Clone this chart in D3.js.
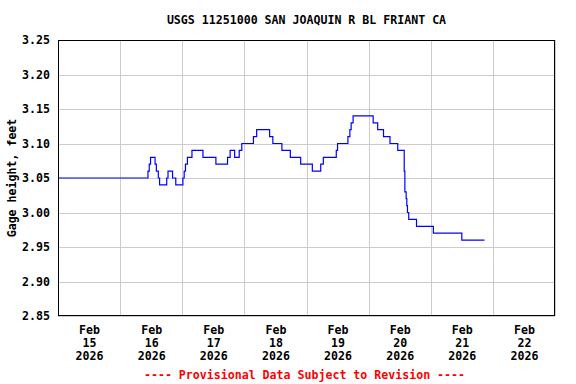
<!DOCTYPE html>
<html>
<head>
<meta charset="utf-8">
<script src="https://cdn.jsdelivr.net/npm/d3@7/dist/d3.min.js"></script>
<style>
  body { margin: 0; background: #fff; }
  text { font-family: "DejaVu Sans Mono", "Liberation Mono", monospace; font-weight: bold; font-size: 11.6px; }
</style>
</head>
<body>
<svg id="chart"></svg>
<script>
// Gage height readings: each value holds until the next time (step changes)
const stepTimes = [
  "2026-02-15 00:00", "2026-02-16 10:45", "2026-02-16 11:15", "2026-02-16 11:45", "2026-02-16 13:30",
  "2026-02-16 14:00", "2026-02-16 14:45", "2026-02-16 15:15", "2026-02-16 18:00", "2026-02-16 18:30",
  "2026-02-16 20:15", "2026-02-16 21:30", "2026-02-17 00:15", "2026-02-17 00:45", "2026-02-17 01:15",
  "2026-02-17 02:00", "2026-02-17 03:45", "2026-02-17 08:00", "2026-02-17 13:00", "2026-02-17 17:30",
  "2026-02-17 18:30", "2026-02-17 20:15", "2026-02-17 22:00", "2026-02-17 23:00", "2026-02-18 03:30",
  "2026-02-18 04:45", "2026-02-18 09:45", "2026-02-18 11:00", "2026-02-18 14:30", "2026-02-18 17:45",
  "2026-02-18 21:45", "2026-02-19 02:15", "2026-02-19 05:30", "2026-02-19 06:30", "2026-02-19 11:30",
  "2026-02-19 12:00", "2026-02-19 16:00", "2026-02-19 16:45", "2026-02-19 17:15", "2026-02-19 18:00",
  "2026-02-20 01:45", "2026-02-20 03:30", "2026-02-20 05:45", "2026-02-20 08:15", "2026-02-20 11:15",
  "2026-02-20 13:45", "2026-02-20 14:00", "2026-02-20 14:30", "2026-02-20 14:45", "2026-02-20 15:00",
  "2026-02-20 15:30", "2026-02-20 18:30", "2026-02-21 01:00", "2026-02-21 12:00", "2026-02-21 20:45"
];
const stepValues = [
  3.05, 3.06, 3.07, 3.08, 3.07,
  3.06, 3.05, 3.04, 3.05, 3.06,
  3.05, 3.04, 3.05, 3.06, 3.07,
  3.08, 3.09, 3.08, 3.07, 3.08,
  3.09, 3.08, 3.09, 3.10, 3.11,
  3.12, 3.11, 3.10, 3.09, 3.08,
  3.07, 3.06, 3.07, 3.08, 3.09,
  3.10, 3.11, 3.12, 3.13, 3.14,
  3.13, 3.12, 3.11, 3.10, 3.09,
  3.06, 3.03, 3.02, 3.01, 3.00,
  2.99, 2.98, 2.97, 2.96, 2.96
];

const yTicks = [2.85, 2.90, 2.95, 3.00, 3.05, 3.10, 3.15, 3.20, 3.25];
const dayLabels = ["2026-02-15", "2026-02-16", "2026-02-17", "2026-02-18",
                   "2026-02-19", "2026-02-20", "2026-02-21", "2026-02-22"];
const xStart = "2026-02-15", xEnd = "2026-02-23";

const titleText = "USGS 11251000 SAN JOAQUIN R BL FRIANT CA";
const yLabel = "Gage height, feet";
const noteText = "---- Provisional Data Subject to Revision ----";

// Canvas
const width = 576, height = 384;
const margin = { top: 40, right: 21, bottom: 68, left: 58 };
const plotW = width - margin.left - margin.right;
const plotH = height - margin.top - margin.bottom;

const svg = d3.select("#chart")
    .attr("width", width)
    .attr("height", height);

const parseTime = d3.timeParse("%Y-%m-%d %H:%M");
const parseDay = d3.timeParse("%Y-%m-%d");

const data = stepTimes.map(function(t, i) {
    return { date: parseTime(t), value: stepValues[i] };
});

const x = d3.scaleTime()
    .domain([parseDay(xStart), parseDay(xEnd)])
    .range([0, plotW]);

const y = d3.scaleLinear()
    .domain([yTicks[0], yTicks[yTicks.length - 1]])
    .range([plotH, 0]);

const g = svg.append("g")
    .attr("transform", "translate(" + margin.left + "," + margin.top + ")");

// Horizontal grid + y tick labels
const yAxis = g.append("g")
    .call(d3.axisLeft(y)
        .tickValues(yTicks)
        .tickSize(-plotW)
        .tickPadding(8)
        .tickFormat(d3.format(".2f")));
yAxis.select(".domain").remove();
yAxis.selectAll("line")
    .attr("stroke", "#cccccc")
    .attr("shape-rendering", "crispEdges");
yAxis.selectAll("text")
    .attr("fill", "#000")
    .style("font-size", "11.6px");

// Vertical grid at each midnight
const xGrid = g.append("g")
    .attr("transform", "translate(0," + plotH + ")")
    .call(d3.axisBottom(x)
        .ticks(d3.timeDay.every(1))
        .tickSize(-plotH)
        .tickFormat(""));
xGrid.select(".domain").remove();
xGrid.selectAll("line")
    .attr("stroke", "#cccccc")
    .attr("shape-rendering", "crispEdges");

// Day labels centred at noon, three lines each
const noonDates = dayLabels.map(function(d) { return d3.timeHour.offset(parseDay(d), 12); });
const xLabels = g.append("g")
    .attr("transform", "translate(0," + plotH + ")")
    .call(d3.axisBottom(x)
        .tickValues(noonDates)
        .tickSize(0)
        .tickFormat(""));
xLabels.select(".domain").remove();
xLabels.selectAll(".tick text")
    .attr("fill", "#000")
    .attr("y", 0)
    .attr("dy", null)
    .each(function(d) {
        const t = d3.select(this);
        const parts = [d3.timeFormat("%b")(d), d3.timeFormat("%-d")(d), d3.timeFormat("%Y")(d)];
        parts.forEach(function(p, i) {
            t.append("tspan")
                .attr("x", 0)
                .attr("y", 18 + i * 13)
                .text(p);
        });
    });
xLabels.selectAll(".tick text").style("font-size", "11.6px");

// Gage height line
const line = d3.line()
    .x(function(d) { return x(d.date); })
    .y(function(d) { return y(d.value); })
    .curve(d3.curveStepAfter);

g.append("path")
    .datum(data)
    .attr("fill", "none")
    .attr("stroke", "#0000ff")
    .attr("stroke-width", 1.2)
    .attr("stroke-linejoin", "miter")
    .attr("d", line);

// Plot frame
g.append("rect")
    .attr("x", 0.5)
    .attr("y", 0.5)
    .attr("width", plotW - 1)
    .attr("height", plotH - 1)
    .attr("fill", "none")
    .attr("stroke", "#000")
    .attr("stroke-width", 1)
    .attr("shape-rendering", "crispEdges");

// Title
svg.append("text")
    .attr("x", margin.left + plotW / 2)
    .attr("y", 24)
    .attr("text-anchor", "middle")
    .text(titleText);

// Y axis label
svg.append("text")
    .attr("transform", "translate(16," + (margin.top + plotH / 2) + ") rotate(-90)")
    .attr("text-anchor", "middle")
    .text(yLabel);

// Provisional note
svg.append("text")
    .attr("x", margin.left + plotW / 2 - 2)
    .attr("y", 379)
    .attr("text-anchor", "middle")
    .attr("fill", "#ff0000")
    .text(noteText);
</script>
</body>
</html>
